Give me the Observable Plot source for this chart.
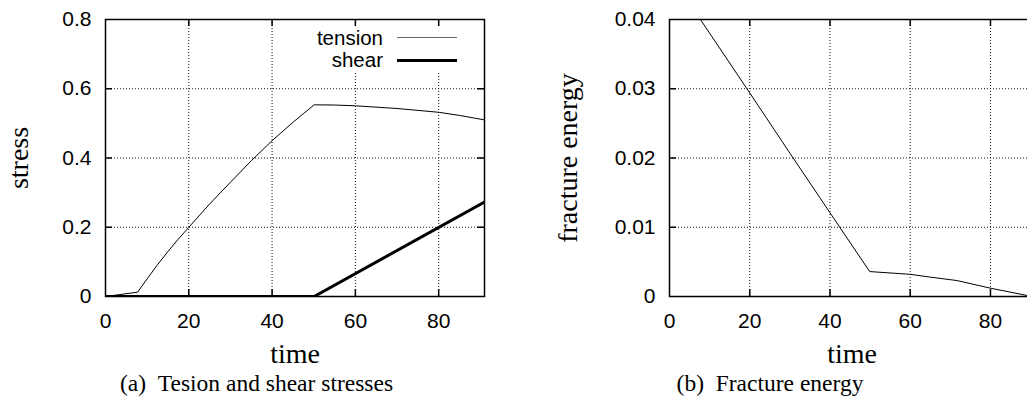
<!DOCTYPE html>
<html>
<head>
<meta charset="utf-8">
<script src="https://cdn.jsdelivr.net/npm/d3@7"></script>
<script src="https://cdn.jsdelivr.net/npm/@observablehq/plot@0.6"></script>
<style>
html, body { margin: 0; padding: 0; background: #fff; }
body { width: 1027px; height: 405px; overflow: hidden; position: relative; }
#root { position: absolute; left: 0; top: 0; width: 1027px; height: 405px; overflow: hidden; }
.panel { position: absolute; top: 0; }
.panel svg { max-width: none !important; overflow: visible; display: block; }
.caption { position: absolute; top: 372px; font-family: "Liberation Serif", "Times New Roman", serif; font-size: 23.5px; line-height: 1; white-space: nowrap; transform: translateX(-50%); color: #000; }
.legbox { position: absolute; left: 306px; top: 27px; width: 176px; height: 44px; background: #fff; }
.legtext { position: absolute; right: 644px; font-family: "Liberation Sans", Arial, sans-serif; font-size: 20.5px; line-height: 22px; white-space: nowrap; color: #000; }
.legline { position: absolute; left: 397px; width: 60px; height: 0; }
</style>
</head>
<body>
<div id="root">
  <div class="panel" id="left" style="left:0px"></div>
  <div class="panel" id="right" style="left:513px"></div>
  <div class="legbox"></div>
  <div class="legtext" id="leg1" style="top:27px"></div>
  <div class="legline" style="top:37px; border-top:1px solid #666;"></div>
  <div class="legtext" id="leg2" style="top:49px"></div>
  <div class="legline" style="top:59px; border-top:3px solid #000;"></div>
  <div class="caption" id="capA" style="left:256.5px"></div>
  <div class="caption" id="capB" style="left:770px"></div>
</div>
<script>
// ---- data ----
const tensionTime = [0, 7.7, 10, 12.5, 15, 17.5, 20, 25, 30, 35, 40, 45, 50.1, 55, 60, 70, 80, 85, 91];
const tensionStress = [0, 0.0125, 0.051, 0.092, 0.130, 0.166, 0.200, 0.267, 0.330, 0.392, 0.450, 0.503, 0.5536, 0.5530, 0.5507, 0.543, 0.532, 0.523, 0.510];
const shearTime = [0, 50.1, 91];
const shearStress = [0, 0, 0.273];
const energyTime = [0, 7.7, 20, 30, 40, 49.9, 60, 65, 71.7, 80, 89.1, 91];
const fractureEnergy = [0.0466, 0.0400, 0.0294, 0.0207, 0.0121, 0.0036, 0.0032, 0.0028, 0.0023, 0.0012, 0.00015, 0];

const xTicks = [0, 20, 40, 60, 80];
const xTickLabels = ["0", "20", "40", "60", "80"];
const stressTicks = [0, 0.2, 0.4, 0.6, 0.8];
const stressTickLabels = ["0", "0.2", "0.4", "0.6", "0.8"];
const energyTicks = [0, 0.01, 0.02, 0.03, 0.04];
const energyTickLabels = ["0", "0.01", "0.02", "0.03", "0.04"];

const seriesNames = ["tension", "shear"];
const xTitle = "time";
const stressTitle = "stress";
const energyTitle = "fracture energy";
const captions = ["(a)\u2002Tesion and shear stresses", "(b)\u2002Fracture energy"];
const timeDomain = [0, 91];
const stressDomain = [0, 0.8];
const energyDomain = [0, 0.04];

// ---- build ----
const tensionRows = tensionTime.map((t, i) => ({t, v: tensionStress[i]}));
const shearRows = shearTime.map((t, i) => ({t, v: shearStress[i]}));
const energyRows = energyTime.map((t, i) => ({t, v: fractureEnergy[i]}));

const sans = "Liberation Sans, Arial, Helvetica, sans-serif";
const serif = "Liberation Serif, Times New Roman, serif";
const gridStyle = {stroke: "#111", strokeWidth: 1, strokeDasharray: "1,2"};
const tickStyle = {stroke: "#000", strokeWidth: 1.5};

function fmt(ticks, labels) {
  const m = new Map(ticks.map((d, i) => [d, labels[i]]));
  return d => m.has(d) ? m.get(d) : "";
}

function panel({width, marginLeft, marginRight, yDomain, yTicks, yLabels, yTitle, yTitleDx, lines}) {
  const innerX = xTicks.slice(1);
  const innerY = yTicks.slice(1, -1);
  const xmax = timeDomain[1], ymax = yDomain[1];
  return Plot.plot({
    width, height: 370,
    marginLeft, marginRight, marginTop: 19, marginBottom: 74,
    x: {domain: timeDomain},
    y: {domain: yDomain},
    style: {fontFamily: sans, fontSize: "21px", background: "white", color: "black", overflow: "visible"},
    marks: [
      Plot.ruleX(innerX, {x: d => d, ...gridStyle}),
      Plot.ruleY(innerY, {y: d => d, ...gridStyle}),
      ...lines,
      // inward ticks on all four sides
      Plot.ruleX(innerX, {x: d => d, y1: 0, y2: 0, insetBottom: 7, ...tickStyle}),
      Plot.ruleX(innerX, {x: d => d, y1: ymax, y2: ymax, insetBottom: -7, ...tickStyle}),
      Plot.ruleY(innerY, {y: d => d, x1: 0, x2: 0, insetRight: -7, ...tickStyle}),
      Plot.ruleY(innerY, {y: d => d, x1: xmax, x2: xmax, insetLeft: -7, ...tickStyle}),
      Plot.frame({stroke: "#000", strokeWidth: 1.5}),
      Plot.axisX({ticks: xTicks, tickSize: 0, tickPadding: 17, tickFormat: fmt(xTicks, xTickLabels), label: null, fontSize: 21, fontFamily: sans}),
      Plot.axisY({ticks: yTicks, tickSize: 0, tickPadding: 14, tickFormat: fmt(yTicks, yLabels), label: null, fontSize: 21, fontFamily: sans}),
      Plot.text([xTitle], {text: d => d, frameAnchor: "bottom", dy: 58, textAnchor: "middle", lineAnchor: "middle", fontSize: 28, fontFamily: serif}),
      Plot.text([yTitle], {text: d => d, frameAnchor: "left", rotate: -90, dx: yTitleDx, textAnchor: "middle", lineAnchor: "middle", fontSize: 28, fontFamily: serif})
    ]
  });
}

const left = panel({
  width: 513, marginLeft: 105, marginRight: 29,
  yDomain: stressDomain, yTicks: stressTicks, yLabels: stressTickLabels,
  yTitle: stressTitle, yTitleDx: -86,
  lines: [
    Plot.line(tensionRows, {x: "t", y: "v", stroke: "#000", strokeWidth: 1, clip: true}),
    Plot.line(shearRows, {x: "t", y: "v", stroke: "#000", strokeWidth: 3, clip: true})
  ]
});
document.getElementById("left").appendChild(left);

const right = panel({
  width: 530, marginLeft: 156, marginRight: 8.9,
  yDomain: energyDomain, yTicks: energyTicks, yLabels: energyTickLabels,
  yTitle: energyTitle, yTitleDx: -101,
  lines: [
    Plot.line(energyRows, {x: "t", y: "v", stroke: "#000", strokeWidth: 1, clip: true})
  ]
});
document.getElementById("right").appendChild(right);

document.getElementById("leg1").textContent = seriesNames[0];
document.getElementById("leg2").textContent = seriesNames[1];
document.getElementById("capA").textContent = captions[0];
document.getElementById("capB").textContent = captions[1];
</script>
</body>
</html>
